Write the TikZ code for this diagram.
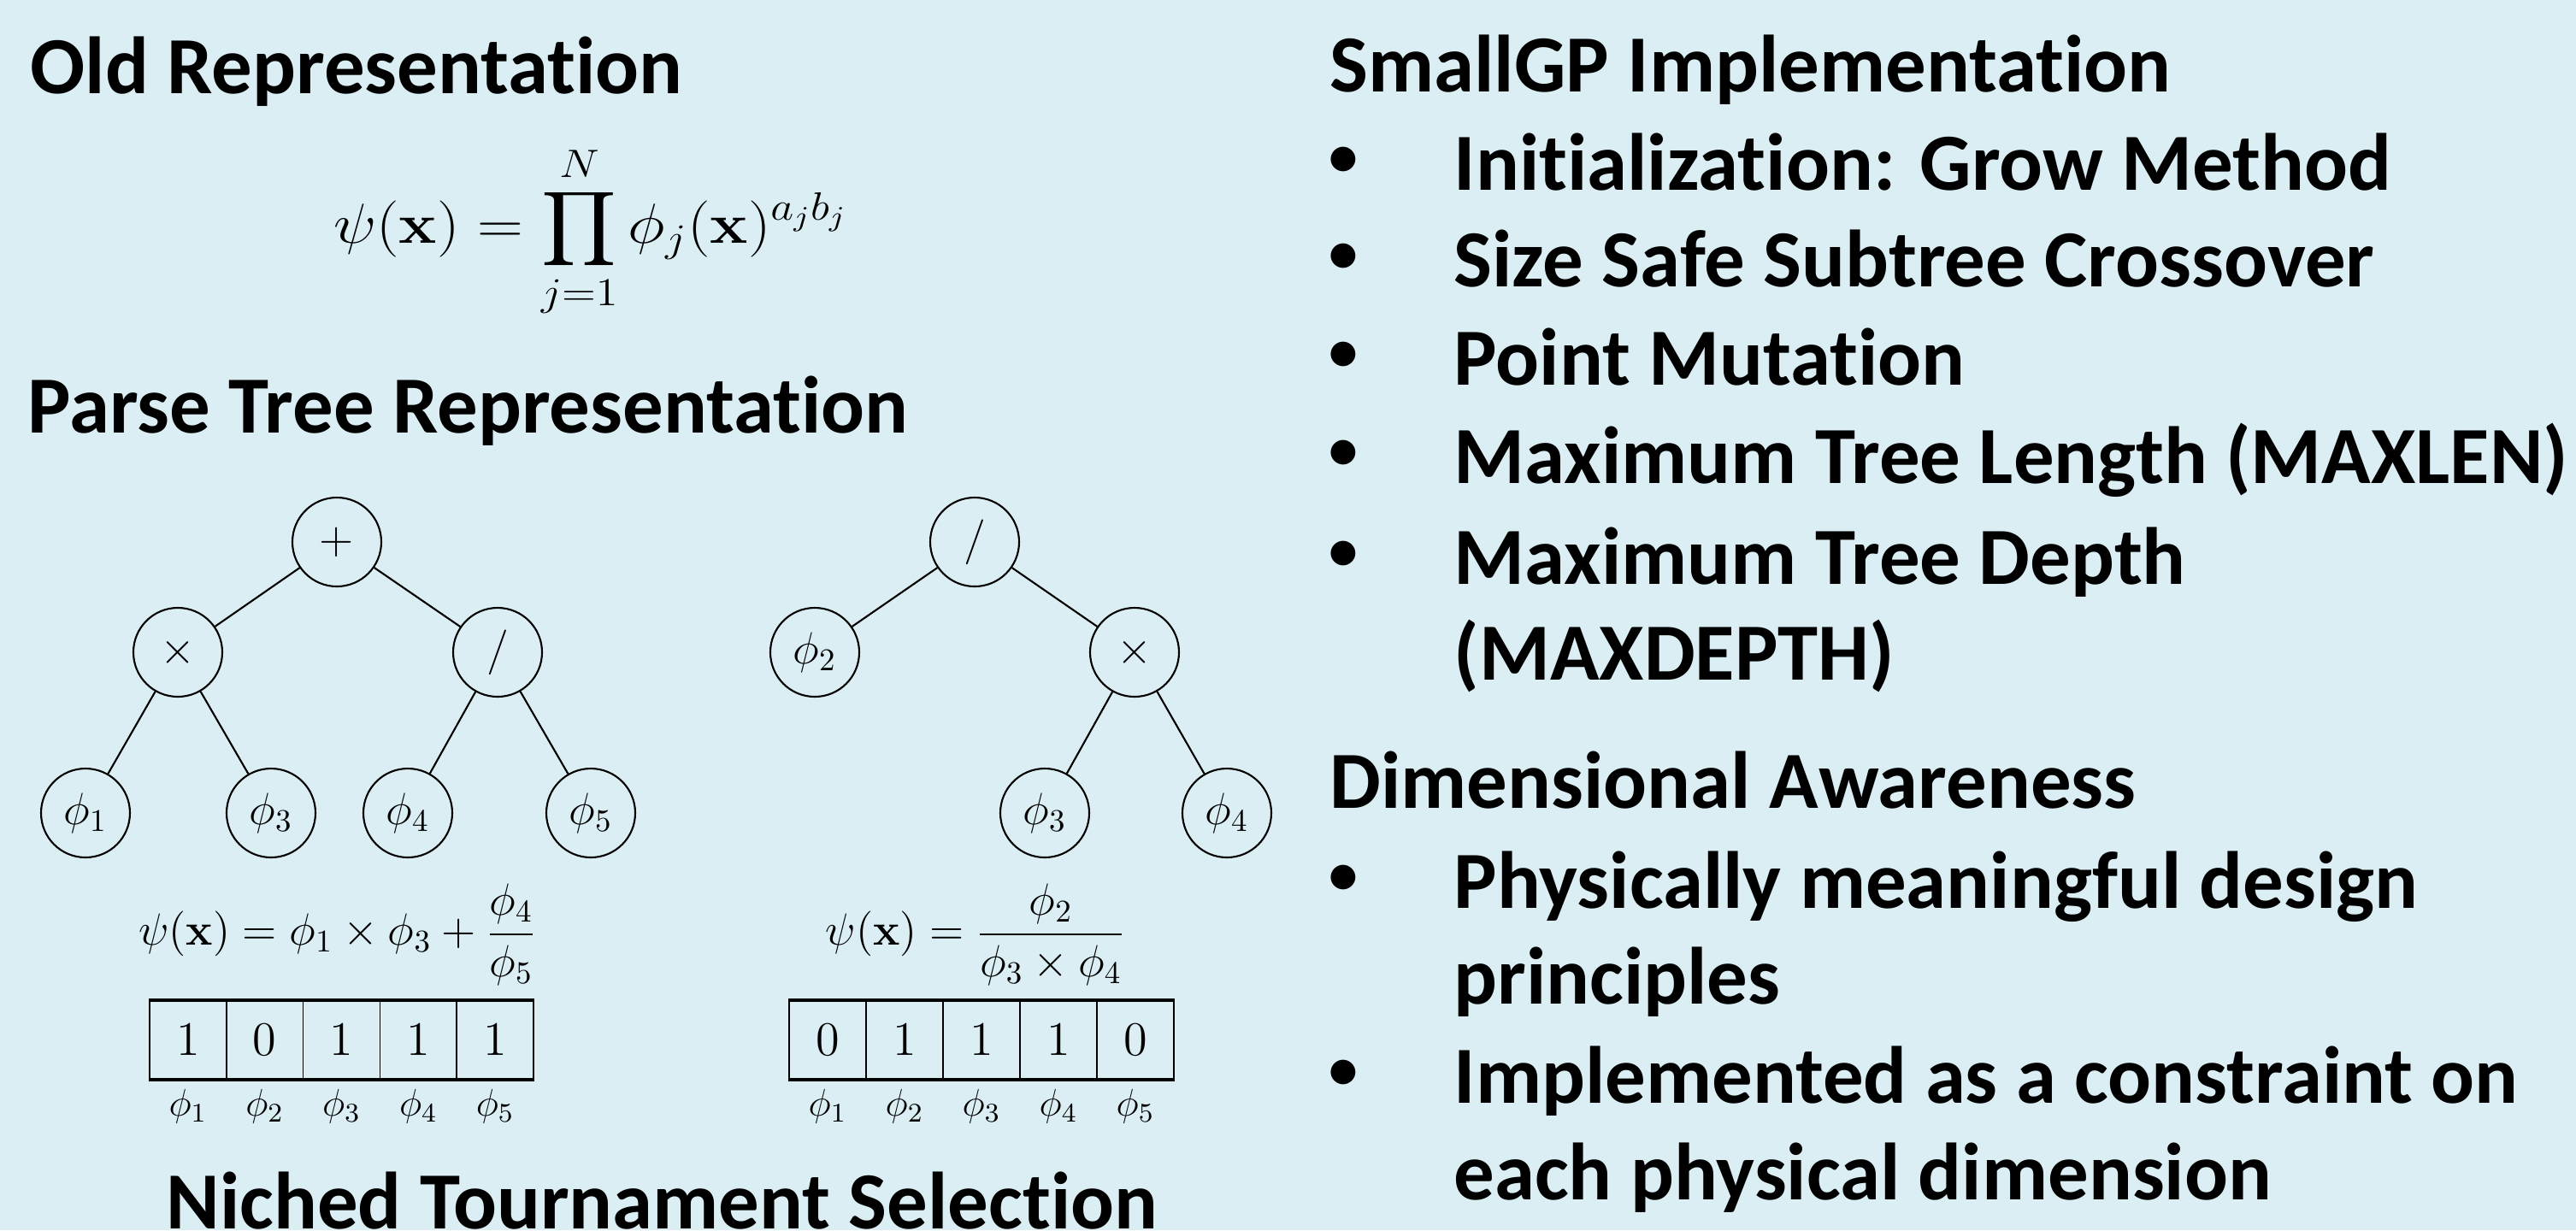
\documentclass[tikz,border=0pt]{standalone}
\usepackage{fix-cm}
\usepackage{amsmath}
\usepackage{graphicx}
\usepackage[no-math]{fontspec}
\setmainfont{Carlito}[Ligatures={NoCommon,NoContextual}, Contextuals={NoAlternate}]
\definecolor{bg}{RGB}{218,238,243}
\tikzset{
  heading/.style={anchor=base west, inner sep=0pt, font=\fontsize{27}{32}\selectfont\bfseries},
  itemtext/.style={anchor=base west, inner sep=0pt, font=\fontsize{27}{32}\selectfont\bfseries},
  bulletmark/.style={anchor=center, inner sep=0pt, font=\fontsize{19.3}{22}\selectfont\bfseries},
  treenode/.style={circle, draw, line width=0.6pt, minimum size=1.04cm, inner sep=0pt, font=\fontsize{15}{18}\selectfont},
  edge/.style={line width=0.6pt},
  cell/.style={draw, line width=0.5pt, minimum width=0.898cm, minimum height=0.91cm, inner sep=0pt, font=\fontsize{16}{19}\selectfont},
  tablerule/.style={line width=1.1pt},
  genelabel/.style={inner sep=0pt, font=\fontsize{12.8}{15}\selectfont},
  formula/.style={inner sep=0pt, font=\fontsize{15}{18}\selectfont},
  bigformula/.style={inner sep=0pt, font=\fontsize{18.8}{22}\selectfont},
}
\begin{document}
\begin{tikzpicture}
\fill[bg] (0,0) rectangle (30.13,-14.39);
\useasboundingbox (0,0) rectangle (30.13,-14.39);

% ---------- left column ----------
\node[heading] (hold) at (0.35,-1.09) {Old Representation};
\node[bigformula] (fold) at (6.91,-2.71) {\scalebox{1.13}[1]{$\displaystyle \psi(\mathbf{x}) = \prod_{j=1}^{N} \phi_j(\mathbf{x})^{a_j b_j}$}};
\node[heading] (hparse) at (0.32,-5.06) {Parse Tree Representation};

% tree 1
\node[treenode] (r1) at (3.94,-6.34) {$+$};
\node[treenode] (a1) at (2.08,-7.63) {$\times$};
\node[treenode] (b1) at (5.82,-7.63) {$/$};
\node[treenode] (l11) at (1.00,-9.51) {$\phi_1$};
\node[treenode] (l12) at (3.17,-9.51) {$\phi_3$};
\node[treenode] (l13) at (4.77,-9.51) {$\phi_4$};
\node[treenode] (l14) at (6.91,-9.51) {$\phi_5$};
\draw[edge] (r1) -- (a1);
\draw[edge] (r1) -- (b1);
\draw[edge] (a1) -- (l11);
\draw[edge] (a1) -- (l12);
\draw[edge] (b1) -- (l13);
\draw[edge] (b1) -- (l14);

% tree 2
\node[treenode] (r2) at (11.40,-6.34) {$/$};
\node[treenode] (a2) at (9.53,-7.63) {$\phi_2$};
\node[treenode] (b2) at (13.27,-7.63) {$\times$};
\node[treenode] (l21) at (12.22,-9.51) {$\phi_3$};
\node[treenode] (l22) at (14.35,-9.51) {$\phi_4$};
\draw[edge] (r2) -- (a2);
\draw[edge] (r2) -- (b2);
\draw[edge] (b2) -- (l21);
\draw[edge] (b2) -- (l22);

% formulas
\node[formula] (f1) at (3.95,-10.93) {$\displaystyle \psi(\mathbf{x}) = \phi_1 \times \phi_3 + \frac{\phi_4}{\phi_5}$};
\node[formula] (f2) at (11.41,-10.93) {$\displaystyle \psi(\mathbf{x}) = \frac{\phi_2}{\phi_3 \times \phi_4}$};

% table 1
\node[cell] (t1c1) at (2.199,-12.165) {$1$};
\node[cell] (t1c2) at (3.097,-12.165) {$0$};
\node[cell] (t1c3) at (3.995,-12.165) {$1$};
\node[cell] (t1c4) at (4.893,-12.165) {$1$};
\node[cell] (t1c5) at (5.791,-12.165) {$1$};
\draw[tablerule] (t1c1.north west) -- (t1c5.north east);
\draw[tablerule] (t1c1.south west) -- (t1c5.south east);
\node[genelabel] (g11) at (2.199,-12.94) {$\phi_1$};
\node[genelabel] (g12) at (3.097,-12.94) {$\phi_2$};
\node[genelabel] (g13) at (3.995,-12.94) {$\phi_3$};
\node[genelabel] (g14) at (4.893,-12.94) {$\phi_4$};
\node[genelabel] (g15) at (5.791,-12.94) {$\phi_5$};

% table 2
\node[cell] (t2c1) at (9.68,-12.165) {$0$};
\node[cell] (t2c2) at (10.58,-12.165) {$1$};
\node[cell] (t2c3) at (11.48,-12.165) {$1$};
\node[cell] (t2c4) at (12.38,-12.165) {$1$};
\node[cell] (t2c5) at (13.28,-12.165) {$0$};
\draw[tablerule] (t2c1.north west) -- (t2c5.north east);
\draw[tablerule] (t2c1.south west) -- (t2c5.south east);
\node[genelabel] (g21) at (9.68,-12.94) {$\phi_1$};
\node[genelabel] (g22) at (10.58,-12.94) {$\phi_2$};
\node[genelabel] (g23) at (11.48,-12.94) {$\phi_3$};
\node[genelabel] (g24) at (12.38,-12.94) {$\phi_4$};
\node[genelabel] (g25) at (13.28,-12.94) {$\phi_5$};

\node[heading] (hniche) at (1.94,-14.37) {Niched Tournament Selection};

% ---------- right column ----------
\node[heading] (hsmall) at (15.55,-1.07) {SmallGP Implementation};
\node[bulletmark] (b1m) at (15.71,-1.89) {•};
\node[itemtext] (i1) at (17.00,-2.22) {Initialization: Grow Method};
\node[bulletmark] (b2m) at (15.71,-3.02) {•};
\node[itemtext] (i2) at (17.00,-3.35) {Size Safe Subtree Crossover};
\node[bulletmark] (b3m) at (15.71,-4.17) {•};
\node[itemtext] (i3) at (17.00,-4.50) {Point Mutation};
\node[bulletmark] (b4m) at (15.71,-5.32) {•};
\node[itemtext] (i4) at (17.00,-5.65) {Maximum Tree Length (MAXLEN)};
\node[bulletmark] (b5m) at (15.71,-6.50) {•};
\node[itemtext] (i5) at (17.00,-6.83) {Maximum Tree Depth};
\node[itemtext] (i5b) at (17.00,-7.95) {(MAXDEPTH)};

\node[heading] (hdim) at (15.55,-9.45) {Dimensional Awareness};
\node[bulletmark] (b6m) at (15.71,-10.29) {•};
\node[itemtext] (i6) at (17.00,-10.62) {Physically meaningful design};
\node[itemtext] (i6b) at (17.00,-11.74) {principles};
\node[bulletmark] (b7m) at (15.71,-12.57) {•};
\node[itemtext] (i7) at (17.00,-12.90) {Implemented as a constraint on};
\node[itemtext] (i7b) at (17.00,-14.03) {each physical dimension};
\end{tikzpicture}
\end{document}
